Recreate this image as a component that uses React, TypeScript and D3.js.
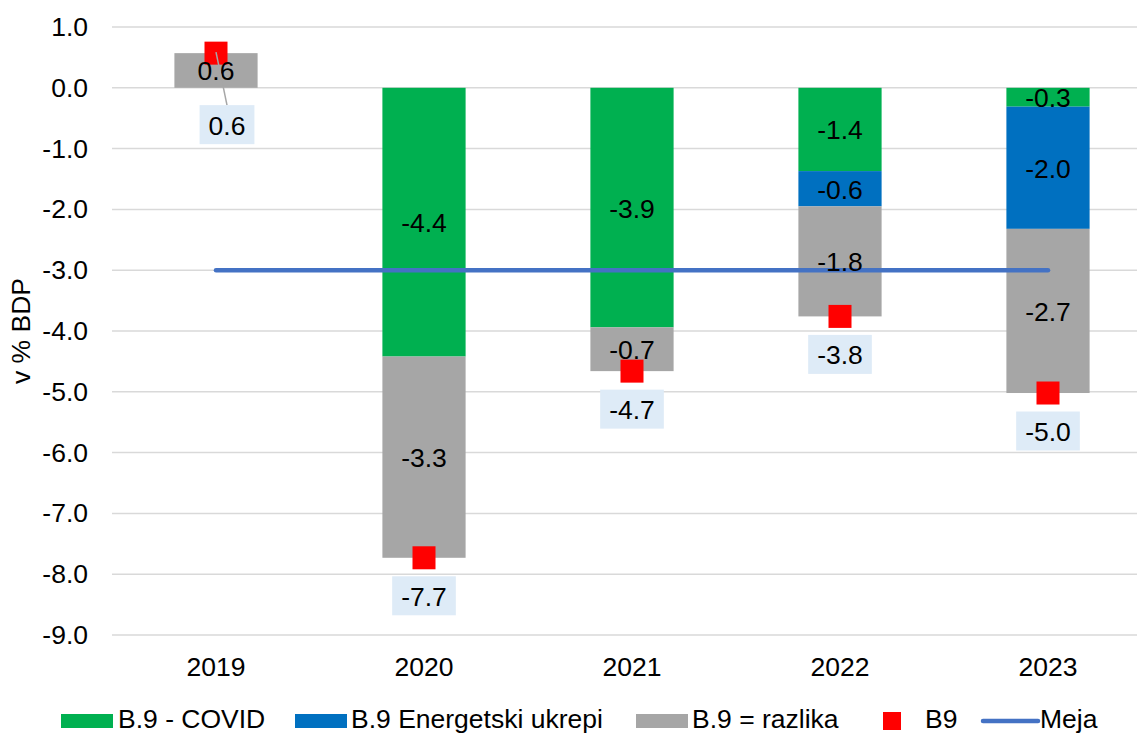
import React, { useRef, useEffect } from 'react';
import * as d3 from 'd3';

// constants
const width = 1137;
const height = 733;
const margin = { top: 27, right: -15, bottom: 98, left: 112 };
const font = 'Liberation Sans, Arial, sans-serif';
const fontSize = 26.5;

// data (v % BDP)
const years = ['2019', '2020', '2021', '2022', '2023'];
const covid = [0, -4.42, -3.94, -1.37, -0.31];
const energetski = [0, 0, 0, -0.58, -2.01];
const razlika = [0.57, -3.31, -0.72, -1.81, -2.7];
const b9 = [0.57, -7.73, -4.66, -3.76, -5.02];
const meja = [-3, -3, -3, -3, -3];
const yTicks = [1, 0, -1, -2, -3, -4, -5, -6, -7, -8, -9];

const seriesKeys = ['s0', 's1', 's2'];
const seriesColors = ['#00B050', '#0070C0', '#A6A6A6'];

// legend layout
const legendY = 721;
const legendItems = [
  { label: 'B.9 - COVID', kind: 'rect', color: '#00B050', x: 61, tx: 118 },
  { label: 'B.9 Energetski ukrepi', kind: 'rect', color: '#0070C0', x: 295, tx: 351 },
  { label: 'B.9 = razlika', kind: 'rect', color: '#A6A6A6', x: 636, tx: 692 },
  { label: 'B9', kind: 'square', color: '#FF0000', x: 883, tx: 925 },
  { label: 'Meja', kind: 'line', color: '#4472C4', x: 983, tx: 1040 },
];

// the 2019 B9 label was dragged away from its marker
const movedLabel = { index: 0, dx: 11, dy: 71.5 };

const fmt = d3.formatLocale({ decimal: '.', thousands: ',', grouping: [3], currency: ['', ''], minus: '-' }).format('.1f');

const App = () => {
  const svgRef = useRef<SVGSVGElement>(null);

  useEffect(() => {
    const svg = d3.select(svgRef.current);
    svg.selectAll('*').remove();

    // scales
    const xScale = d3.scaleBand()
      .domain(years)
      .range([margin.left, width - margin.right])
      .paddingInner(0.6)
      .paddingOuter(0.3);
    const yScale = d3.scaleLinear()
      .domain([-9, 1])
      .range([height - margin.bottom, margin.top]);
    const cx = (i: number) => (xScale(years[i]) as number) + xScale.bandwidth() / 2;

    // gridlines
    svg.append('g')
      .selectAll('line')
      .data(yTicks)
      .join('line')
      .attr('x1', margin.left)
      .attr('x2', width)
      .attr('y1', d => yScale(d))
      .attr('y2', d => yScale(d))
      .attr('stroke', '#D9D9D9')
      .attr('stroke-width', 1.5);

    // y tick labels
    svg.append('g')
      .selectAll('text')
      .data(yTicks)
      .join('text')
      .attr('x', 88)
      .attr('y', d => yScale(d))
      .attr('text-anchor', 'end')
      .attr('dominant-baseline', 'central')
      .attr('font-family', font)
      .attr('font-size', fontSize)
      .attr('fill', '#000')
      .text(d => fmt(d));

    // y title
    svg.append('text')
      .attr('transform', `translate(21, ${(yScale(1) + yScale(-9)) / 2}) rotate(-90)`)
      .attr('text-anchor', 'middle')
      .attr('dominant-baseline', 'central')
      .attr('font-family', font)
      .attr('font-size', fontSize)
      .text('v % BDP');

    // x labels
    svg.append('g')
      .selectAll('text')
      .data(years)
      .join('text')
      .attr('x', (d, i) => cx(i))
      .attr('y', 667)
      .attr('text-anchor', 'middle')
      .attr('dominant-baseline', 'central')
      .attr('font-family', font)
      .attr('font-size', fontSize)
      .text(d => d);

    // stacked bars
    const table = years.map((y, i) => ({ year: y, s0: covid[i], s1: energetski[i], s2: razlika[i] }));
    const stack = d3.stack<any>()
      .keys(seriesKeys)
      .offset(d3.stackOffsetDiverging);
    const layers = stack(table);

    const barG = svg.append('g');
    layers.forEach((layer, k) => {
      barG.append('g')
        .selectAll('rect')
        .data(layer.filter(d => d[1] !== d[0]))
        .join('rect')
        .attr('x', d => xScale(d.data.year) as number)
        .attr('width', xScale.bandwidth())
        .attr('y', d => yScale(d[1]))
        .attr('height', d => yScale(d[0]) - yScale(d[1]))
        .attr('fill', seriesColors[k]);
    });

    // Meja line
    const line = d3.line<number>()
      .x((d, i) => cx(i))
      .y(d => yScale(d));
    svg.append('path')
      .datum(meja)
      .attr('d', line)
      .attr('fill', 'none')
      .attr('stroke', '#4472C4')
      .attr('stroke-width', 4.5)
      .attr('stroke-linecap', 'round');

    // B9 markers
    const ms = 23;
    svg.append('g')
      .selectAll('rect')
      .data(b9)
      .join('rect')
      .attr('x', (d, i) => cx(i) - ms / 2)
      .attr('y', d => yScale(d) - ms / 2)
      .attr('width', ms)
      .attr('height', ms)
      .attr('fill', '#FF0000');

    // bar labels
    const labelG = svg.append('g');
    layers.forEach(layer => {
      labelG.append('g')
        .selectAll('text')
        .data(layer.filter(d => d[1] !== d[0]))
        .join('text')
        .attr('x', d => (xScale(d.data.year) as number) + xScale.bandwidth() / 2)
        .attr('y', d => (yScale(d[0]) + yScale(d[1])) / 2 + 1)
        .attr('text-anchor', 'middle')
        .attr('dominant-baseline', 'central')
        .attr('font-family', font)
        .attr('font-size', fontSize)
        .attr('fill', '#000')
        .text(d => fmt(d.data[layer.key]));
    });

    // B9 labels with boxes
    const boxH = 39;
    b9.forEach((v, i) => {
      const mx = cx(i);
      const my = yScale(v);
      const moved = movedLabel.index === i;
      const lx = moved ? mx + movedLabel.dx : mx;
      const ly = moved ? my + movedLabel.dy : my + 38;
      const g = svg.append('g');
      if (moved) {
        g.append('line')
          .attr('x1', mx)
          .attr('y1', my - 1)
          .attr('x2', lx)
          .attr('y2', ly - boxH / 2)
          .attr('stroke', '#A6A6A6')
          .attr('stroke-width', 1.5);
      }
      const box = g.append('rect').attr('fill', '#DEEBF7');
      const t = g.append('text')
        .attr('x', lx)
        .attr('y', ly + 1)
        .attr('text-anchor', 'middle')
        .attr('dominant-baseline', 'central')
        .attr('font-family', font)
        .attr('font-size', fontSize)
        .attr('fill', '#000')
        .text(fmt(v));
      const tw = (t.node() as SVGTextElement).getComputedTextLength();
      const bw = tw + 18;
      box.attr('x', lx - bw / 2)
        .attr('y', ly - boxH / 2)
        .attr('width', bw)
        .attr('height', boxH);
    });

    // legend
    const legend = svg.append('g');
    legendItems.forEach(item => {
      if (item.kind === 'rect') {
        legend.append('rect')
          .attr('x', item.x).attr('y', legendY - 7)
          .attr('width', 52).attr('height', 14)
          .attr('fill', item.color);
      } else if (item.kind === 'square') {
        legend.append('rect')
          .attr('x', item.x).attr('y', legendY - 9)
          .attr('width', 18).attr('height', 18)
          .attr('fill', item.color);
      } else {
        legend.append('line')
          .attr('x1', item.x).attr('x2', item.x + 55)
          .attr('y1', legendY).attr('y2', legendY)
          .attr('stroke', item.color)
          .attr('stroke-width', 4.5)
          .attr('stroke-linecap', 'round');
      }
      legend.append('text')
        .attr('x', item.tx)
        .attr('y', 728)
        .attr('font-family', font)
        .attr('font-size', fontSize)
        .attr('fill', '#000')
        .text(item.label);
    });
  }, []);

  return (
    <svg
      ref={svgRef}
      width={width}
      height={height}
      style={{ position: 'absolute', left: 0, top: 0, background: '#fff' }}
    />
  );
};

export default App;
